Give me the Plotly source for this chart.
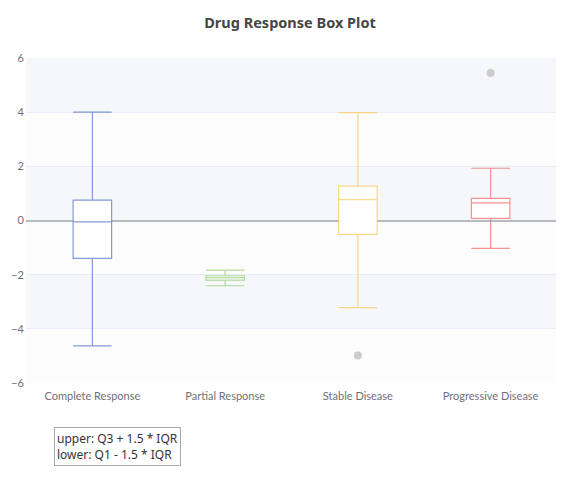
import plotly.graph_objects as go

categories = ["Complete Response", "Partial Response", "Stable Disease", "Progressive Disease"]
lower = [-4.63, -2.41, -3.22, -1.03]
q1 = [-1.40, -2.20, -0.51, 0.08]
median = [-0.05, -2.11, 0.77, 0.65]
q3 = [0.75, -2.04, 1.27, 0.82]
upper = [4.00, -1.83, 3.98, 1.93]
colors = ["rgba(84,112,198,0.7)", "rgba(145,204,117,0.7)", "rgba(250,200,88,0.7)", "rgba(238,102,102,0.7)"]

outlier_cats = ["Stable Disease", "Progressive Disease"]
outlier_vals = [-4.98, 5.45]

y_ticks = [-6, -4, -2, 0, 2, 4, 6]

fig = go.Figure()
for i, c in enumerate(categories):
    fig.add_trace(go.Box(
        x=[c], q1=[q1[i]], median=[median[i]], q3=[q3[i]],
        lowerfence=[lower[i]], upperfence=[upper[i]],
        width=0.29, whiskerwidth=1,
        fillcolor="white",
        line=dict(color=colors[i], width=1.2),
        boxpoints=False, showlegend=False, hoverinfo="skip",
    ))

fig.add_trace(go.Scatter(
    x=outlier_cats, y=outlier_vals, mode="markers",
    marker=dict(color="#cccccc", size=8), showlegend=False, hoverinfo="skip",
))

shapes = []
band_cols = ["rgba(252,252,253,1)", "rgba(245,247,251,1)"]
for k in range(len(y_ticks) - 1):
    shapes.append(dict(type="rect", xref="paper", yref="y", x0=0, x1=1,
                       y0=y_ticks[k], y1=y_ticks[k + 1],
                       fillcolor=band_cols[k % 2], line=dict(width=0), layer="below"))

# page body has an 8px margin, so the figure is sized/positioned to compensate
W, H = 556, 474
fig.update_layout(
    width=W, height=H,
    paper_bgcolor="white", plot_bgcolor="white",
    margin=dict(l=18, r=7, t=50, b=99),
    title=dict(text="<b>Drug Response Box Plot</b>", x=282 / W, xanchor="center", y=1 - 15 / H, yanchor="middle",
               font=dict(family="Noto Sans", size=14.5, color="#464646")),
    font=dict(family="Lato", size=11, color="#6e7079"),
    shapes=shapes,
    xaxis=dict(type="category", categoryorder="array", categoryarray=categories,
               showgrid=False, showline=False, zeroline=False, ticks="", automargin=False,
               ticklabelstandoff=5,
               tickfont=dict(family="Lato", size=11, color="#6e7079"), range=[-0.5, 3.5]),
    yaxis=dict(range=[-6, 6], tickvals=y_ticks, showgrid=True, gridcolor="#e9edf5", gridwidth=1,
               zeroline=True, zerolinecolor="#b9b9c0", zerolinewidth=1.5, automargin=False,
               showline=False, ticks="", ticklabelstandoff=1,
               tickfont=dict(family="Lato", size=11, color="#6e7079")),
    annotations=[dict(text="upper: Q3 + 1.5 * IQR<br>lower: Q1 - 1.5 * IQR",
                      xref="paper", yref="paper", x=(54 - 26) / 531, y=-(466 - 383) / 325,
                      xanchor="left", yanchor="bottom", align="left", showarrow=False,
                      bordercolor="#aaaaaa", borderwidth=1, borderpad=2, bgcolor="white",
                      font=dict(family="Noto Sans", size=12, color="#333333"))],
)

fig.write_html("out.html")
